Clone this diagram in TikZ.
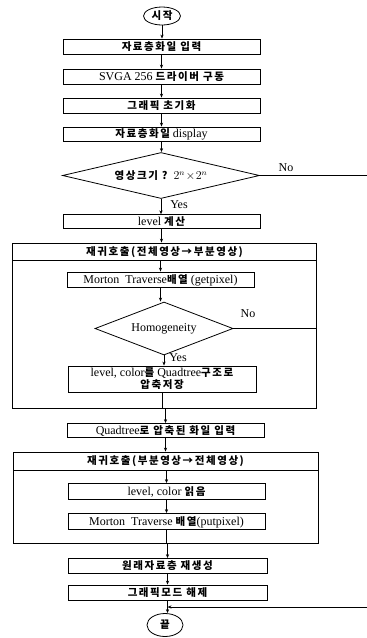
\documentclass[tikz,border=0pt]{standalone}
\usepackage{fontspec}
\setmainfont{Liberation Serif}
\newfontfamily\krfont{Noto Sans CJK KR}[LetterSpace=15]
\newcommand{\kr}[1]{{\krfont\bfseries\fontsize{10.5}{12}\selectfont #1}}
\usetikzlibrary{arrows.meta,shapes.geometric}
\begin{document}
\begin{tikzpicture}[x=1pt,y=-1pt,
  every node/.style={font=\fontsize{12}{13}\selectfont},
  basebox/.style={draw, line width=0.8pt, inner sep=0pt, minimum width=197pt, minimum height=15pt, align=center},
  pbox/.style={basebox, text height=9.4pt, text depth=1.6pt},
  lbox/.style={draw, line width=0.8pt, inner sep=0pt, minimum width=304pt, text height=9.4pt, text depth=1.6pt},
  dec/.style={draw, diamond, line width=0.8pt, inner sep=0pt},
  term/.style={draw, ellipse, line width=0.8pt, inner sep=0pt, text height=9.4pt, text depth=1.6pt},
  lab/.style={inner sep=0pt},
  arr/.style={-{Stealth[length=4pt,width=3.2pt]}, line width=0.8pt},
  ln/.style={line width=0.8pt}]
\useasboundingbox (0,0) rectangle (367,638);
\fill[white] (0,0) rectangle (367,638);

\node[term, minimum width=37pt, minimum height=18pt] (start) at (162,16) {\kr{시작}};
\node[pbox] (b1) at (161.5,46.5) {\kr{자료층화일 입력}};
\node[pbox] (b2) at (161.5,76.5) {SVGA 256 \kr{드라이버 구동}};
\node[pbox] (b3) at (161.5,105.5) {\kr{그래픽 초기화}};
\node[pbox, minimum height=14pt] (b4) at (161.5,134) {\kr{자료층화일} display};
\node[dec, shape aspect=4.28, minimum width=197pt, minimum height=46pt] (d1) at (161,175.5) {\kr{영상크기 ?}\ \ $2^n\!\times\!2^n$};
\node[lab] (no1) at (286,168) {No};
\coordinate (out1) at (367,175.5);
\node[lab] (yes1) at (179,205) {Yes};
\node[pbox, minimum height=13.5pt] (b5) at (161.5,221.5) {level \kr{계산}};

\node[lbox, minimum height=17pt] (L1h) at (164.5,251.5) {\kr{재귀호출(전체영상→부분영상)}};
\node[lbox, minimum height=148pt, anchor=north] (L1) at (L1h.south) {};
\node[pbox, minimum width=187pt] (m1) at (160.5,279.5) {Morton\ \ Traverse\kr{배열} (getpixel)};
\node[dec, shape aspect=2.6, minimum width=138pt, minimum height=53pt] (d2) at (164,328.5) {Homogeneity};
\node[lab] (no2) at (248,314) {No};
\node[lab] (yes2) at (178,358) {Yes};
\node[basebox, minimum width=188pt, minimum height=26pt] (q1) at (162,379) {level, color\kr{를} Quadtree\kr{구조로}\\[-1pt]\kr{압축저장}};

\node[pbox, minimum height=14pt] (q2) at (165.5,430.5) {Quadtree\kr{로 압축된 화일 입력}};
\node[lbox, minimum height=18pt, minimum width=305pt] (L2h) at (165.5,461) {\kr{재귀호출(부분영상→전체영상)}};
\node[lbox, minimum height=73pt, minimum width=305pt, anchor=north] (L2) at (L2h.south) {};
\node[pbox, minimum height=16pt] (r1) at (166.5,491.5) {level, color \kr{읽음}};
\node[pbox, minimum height=16pt] (r2) at (166.5,521.5) {Morton\ \ Traverse \kr{배열}(putpixel)};
\node[pbox, minimum width=199pt] (r3) at (167.5,566) {\kr{원래자료층 재생성}};
\node[pbox, minimum width=199pt] (r4) at (167.5,592.5) {\kr{그래픽모드 해제}};
\node[term, minimum width=36pt, minimum height=23pt] (end) at (165,625) {\kr{끝}};
\coordinate (in2) at (367,607);

\draw[arr] (start.south) -- (start.south |- b1.north);
\draw[arr] (b1.south) -- (b1.south |- b2.north);
\draw[arr] (b2.south) -- (b2.south |- b3.north);
\draw[arr] (b3.south) -- (b3.south |- b4.north);
\draw[arr] (b4.south) -- (b4.south |- d1.north);
\draw[ln] (d1.east) -- (d1.east -| out1);
\draw[arr] (d1.south) -- (d1.south |- b5.north);
\draw[arr] (b5.south) -- (b5.south |- L1h.north);
\draw[arr] (L1h.south -| m1.north) -- (m1.north);
\draw[arr] (m1.south) -- (m1.south |- d2.north);
\draw[ln] (d2.east) -- (d2.east -| L1.east);
\draw[arr] (d2.south) -- (d2.south |- q1.north);
\draw[ln] (q1.south) -- (q1.south |- L1.south);
\draw[arr] (L1.south -| q2.north) -- (q2.north);
\draw[arr] (q2.south) -- (q2.south |- L2h.north);
\draw[arr] (L2h.south -| r1.north) -- (r1.north);
\draw[arr] (r1.south) -- (r1.south |- r2.north);
\draw[ln] (r2.south) -- (r2.south |- L2.south);
\draw[arr] (L2.south -| r3.north) -- (r3.north);
\draw[arr] (r3.south) -- (r3.south |- r4.north);
\draw[arr] (r4.south) -- (r4.south |- end.north);
\draw[arr] (in2) -- (in2 -| r4.south);
\end{tikzpicture}
\end{document}
